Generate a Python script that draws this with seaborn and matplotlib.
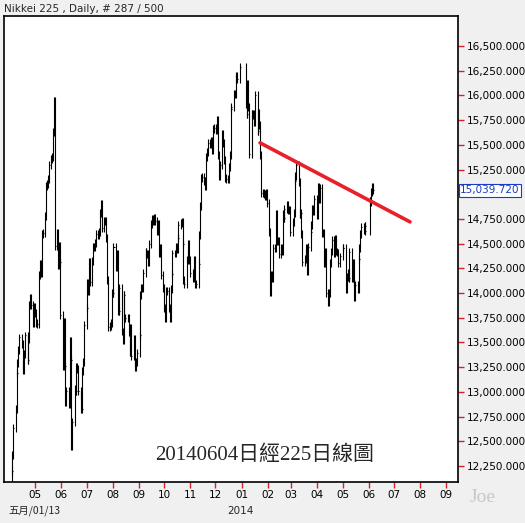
import matplotlib
matplotlib.use("Agg")
import matplotlib.pyplot as plt
import matplotlib.dates as mdates
import numpy as np
import pandas as pd
import seaborn as sns

sns.set_style("white")
plt.rcParams['font.family'] = ['DejaVu Sans', 'Noto Sans CJK TC']

months = ["2013-04", "2013-05", "2013-06", "2013-07", "2013-08", "2013-09", "2013-10",
          "2013-11", "2013-12", "2014-01", "2014-02", "2014-03", "2014-04", "2014-05", "2014-06"]
month_start_day = [3, 1, 1, 1, 1, 1, 1, 1, 1, 6, 1, 1, 1, 1, 2]
closes = [
 [12200, 12360, 12630, 12830, 13190, 13290, 13420, 13550, 13480, 13270, 13220, 13380, 13570, 13320, 13530, 13880, 13950, 13880, 13700, 13860],
 [13800, 13700, 13690, 14180, 14290, 14200, 14600, 14610, 14780, 15080, 15100, 15150, 15300, 15360, 15380, 15630, 15940, 14480, 14610, 14280, 14480, 14310, 13780],
 [13260, 13710, 13260, 12900, 13010, 12880, 13510, 13320, 12450, 12690, 13030, 13010, 13250, 13230, 13010, 12970, 12830, 13210, 13300, 13680],
 [13850, 14100, 14020, 14310, 14110, 14320, 14470, 14470, 14510, 14600, 14590, 14620, 14810, 14900, 14660, 14730, 14730, 14560, 14130, 13660, 13670, 13700, 14000],
 [14000, 14470, 14260, 14400, 13820, 13820, 14050, 13610, 13520, 13980, 13750, 13750, 13750, 13600, 13400, 13650, 13360, 13540, 13300, 13250, 13300, 13390],
 [13570, 13980, 14050, 14050, 14200, 14420, 14390, 14400, 14310, 14500, 14700, 14750, 14730, 14760, 14730, 14630, 14700, 14400, 14460, 14180, 14050],
 [13850, 13750, 14020, 14020, 13850, 13750, 14040, 14190, 14400, 14400, 14470, 14450, 14560, 14690, 14710, 14720, 14500, 14130, 14090, 14330, 14400, 14500, 14330],
 [14200, 14150, 14230, 14330, 14090, 14090, 14290, 14590, 14880, 15160, 15170, 15130, 15080, 15380, 15430, 15520, 15510, 15540, 15450, 15660, 15670],
 [15650, 15750, 15400, 15180, 15300, 15610, 15520, 15350, 15160, 15150, 15150, 15280, 15400, 15860, 15880, 16020, 16010, 16180, 16200, 16170, 16290],
 [15910, 15810, 16120, 15880, 15410, 15810, 15800, 15810, 15730, 16000, 15640, 15820, 15700, 15400, 15010, 15010, 15000, 14980, 15010, 14910],
 [14620, 14010, 14180, 14150, 14460, 14460, 14800, 14530, 14530, 14390, 14460, 14420, 14800, 14760, 14850, 14890, 14840, 14840, 14620],
 [14720, 14810, 15130, 15180, 15300, 15120, 14800, 14810, 14600, 14310, 14340, 14410, 14460, 14220, 14470, 14620, 14690, 14850, 14830, 14950],
 [14790, 15070, 14950, 15060, 14610, 14610, 14300, 14420, 14000, 13910, 14000, 14300, 14420, 14540, 14400, 14550, 14420, 14410, 14300, 14370],
 [14460, 14460, 14040, 14160, 14200, 14150, 14420, 14150, 14300, 14100, 13960, 14080, 14040, 14340, 14460, 14600, 14670, 14640, 14680, 14630],
 [14930, 14920, 15020, 15070, 15039.72],
]
trend_dates = ["2014-01-23", "2014-07-20"]
trend_values = [15520, 14720]
last_price = 15039.72
y_ticks = list(range(12250, 16501, 250))
x_tick_months = ["2013-05", "2013-06", "2013-07", "2013-08", "2013-09", "2013-10", "2013-11", "2013-12",
                 "2014-01", "2014-02", "2014-03", "2014-04", "2014-05", "2014-06", "2014-07", "2014-08", "2014-09"]

dates, vals = [], []
for m, sd, cl in zip(months, month_start_day, closes):
    start = pd.Timestamp(m + "-%02d" % sd)
    end = start + pd.offsets.MonthEnd(0)
    bd = pd.bdate_range(start, end)[:len(cl)]
    dates.extend(bd)
    vals.extend(cl)
df = pd.DataFrame({"date": dates, "close": vals})
df["open"] = df["close"].shift(1).fillna(df["close"].iloc[0] - 100)

fig = plt.figure(figsize=(5.25, 5.23), dpi=100, facecolor="#f0f0f0")
ax = fig.add_axes([4/525, 41/523, 454/525, 466/523])
ax.set_facecolor("white")

x = mdates.date2num(df["date"])
lo = np.minimum(df["open"], df["close"])
hi = np.maximum(df["open"], df["close"])
ax.vlines(x, lo - 40, hi + 40, color="black", lw=0.8)
ax.hlines(df["close"], x, x + 1.2, color="black", lw=0.8)

tdf = pd.DataFrame({"date": mdates.date2num(pd.to_datetime(trend_dates)), "v": trend_values})
sns.lineplot(data=tdf, x="date", y="v", ax=ax, color="#e8202a", lw=2.6)

ax.set_xlim(mdates.date2num(pd.Timestamp("2013-03-25")), mdates.date2num(pd.Timestamp("2014-09-15")))
ax.set_ylim(12087, 16804)
ax.yaxis.tick_right()
ax.set_yticks(y_ticks)
ax.set_yticklabels(["" if v == 15000 else f"{v:,.3f}" for v in y_ticks], fontsize=7.5)
xt = mdates.date2num(pd.to_datetime(x_tick_months))
ax.set_xticks(xt)
ax.set_xticklabels([m[-2:] for m in x_tick_months], fontsize=7.5)
ax.tick_params(axis="both", colors="#e02020", length=4, width=1, labelcolor="black", pad=2,
               bottom=True, right=True, left=False)
ax.set_xlabel(""); ax.set_ylabel("")
for s in ax.spines.values():
    s.set_color("black"); s.set_linewidth(1.2)

ax.text(1.005, (last_price - 12087) / (16804 - 12087), f"{last_price:,.3f}", transform=ax.transAxes,
        fontsize=7.5, color="#1a3cc8", va="center", ha="left",
        bbox=dict(boxstyle="square,pad=0.15", fc="white", ec="#1a3cc8", lw=0.8))
fig.text(4/525, 1 - 9/523, "Nikkei 225 , Daily, # 287 / 500", fontsize=7.5, va="center", ha="left")
fig.text(8/525, 1 - 511/523, "五月/01/13", fontsize=7.5, va="center", ha="left",
         family=['Noto Sans CJK TC', 'DejaVu Sans'])
fig.text(240/525, 1 - 511/523, "2014", fontsize=7.5, va="center", ha="center")
fig.text(483/525, 1 - 497/523, "Joe", fontsize=14, color="#c8c8c8", va="center", ha="center",
         family="Liberation Serif")
fig.text(265/525, 1 - 455/523, "20140604日經225日線圖", fontsize=15, va="center", ha="center",
         family=['Liberation Serif', 'Noto Sans CJK TC'])
fig.savefig("out.png", dpi=100, facecolor=fig.get_facecolor())
